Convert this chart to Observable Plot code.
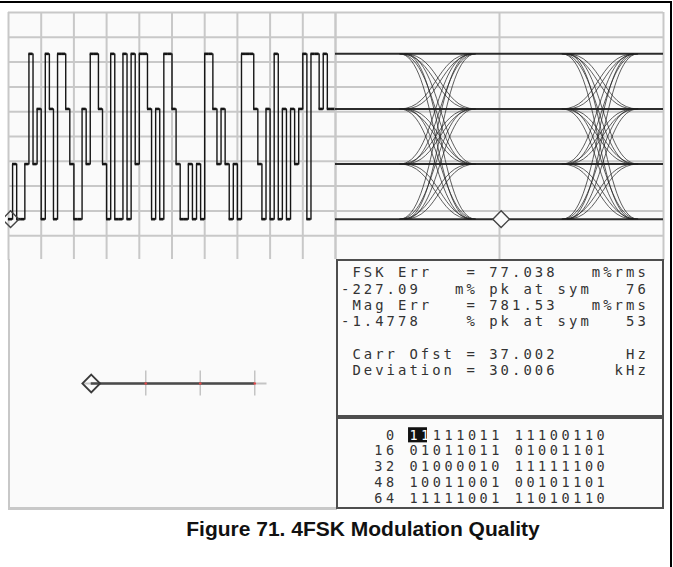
<!DOCTYPE html>
<html>
<head>
<meta charset="utf-8">
<script src="https://cdn.jsdelivr.net/npm/d3@7"></script>
<script src="https://cdn.jsdelivr.net/npm/@observablehq/plot@0.6"></script>
<style>
  body { margin: 0; background: #ffffff; }
  #page { position: relative; width: 673px; height: 567px; overflow: hidden; background: #fff; }
  .abs { position: absolute; }
  svg { display: block; }
</style>
</head>
<body>
<div id="page"></div>
<script>
// ---------------- data ----------------
const levels = [3, 1, -1, -3];
// demodulated symbol levels shown in the time trace (one value per symbol slot)
const traceSymbols = [
  -3, -1, -3, -3, -1, 3, -1, 1, -3, 3,
   1, -3, 3, 3, 1, -1, -3, -3, 1, -1,
   3, 3, 1, -1, -3, 3, -3, -3, 3, -3,
   3, -1, 3, 3, 1, -3, 1, -3, 3, 3,
   1, -1, -3, -3, -1, -3, -1, -3, 3, 3,
   1, -1, 1, -1, -3, -1, -3, 3, 3, 3,
   1, -1, -3, 1, -3, 3, -3, 1, -3, 1,
  -1, 1, 3, -3, 3, 3, 1, 3, 1, 1
];
const traceMarkerSymbol = 0;
const gridColumns = 10;
const gridRows = 10;
const yHalfRange = 4.5;

// eye diagram (two symbol periods wide)
const eyeSymbols = 2;
const eyeCrossings = [0.61, 1.60];
const eyeVariants = [[-0.22, 0.22], [-0.19, 0.245]];
const eyeMarkerTime = 1.01;
const eyeMarkerLevel = -3;

// frequency-deviation indicator
const deviationTicks = [-1, 1, 3];
const deviationMarker = -3;
const deviationAxis = [-3.25, 3.45];
const deviationRange = 6;

// measurement read-out
const measurementLines = [
  " FSK Err   = 77.038   m%rms",
  "-227.09   m% pk at sym   76",
  " Mag Err   = 781.53   m%rms",
  "-1.4778    % pk at sym   53",
  "",
  " Carr Ofst = 37.002      Hz",
  " Deviation = 30.006     kHz"
];

// demodulated bits
const bitRowLabels = [0, 16, 32, 48, 64];
const bitRows = [
  "11111011 11100110",
  "01011011 01001101",
  "01000010 11111100",
  "10011001 00101101",
  "11111001 11010110"
];
const highlightedBits = 2;

const caption = "Figure 71. 4FSK Modulation Quality";

// ---------------- styling ----------------
const GRID = "#c8c8c8";
const SCREEN_BG = "#fafafa";
const TRACE = "#161616";
const TEXT = "#333333";
const MONO = "'DejaVu Sans Mono', 'Liberation Mono', monospace";

const page = document.getElementById("page");
function place(el, left, top) {
  el.classList.add("abs");
  el.style.left = left + "px";
  el.style.top = top + "px";
  page.appendChild(el);
  return el;
}
function box(left, top, w, h, css) {
  const d = document.createElement("div");
  d.style.width = w + "px";
  d.style.height = h + "px";
  d.style.boxSizing = "border-box";
  Object.assign(d.style, css || {});
  return place(d, left, top);
}
function inside(wrap, el) {
  el.style.position = "absolute";
  el.style.left = "0px";
  el.style.top = "0px";
  wrap.appendChild(el);
}

// frame lines of the figure
box(0, 1, 672, 2, {background: "#000"});
box(670, 1, 2, 566, {background: "#000"});

// screen background
box(8, 12, 655, 497, {background: SCREEN_BG});

// ---------------- time trace ----------------
const nSym = traceSymbols.length;
const traceData = traceSymbols.map((v, i) => ({t: i, v}));
traceData.push({t: nSym, v: traceSymbols[nSym - 1]});
const gridY = d3.range(gridRows + 1).map(i => -yHalfRange + 2 * yHalfRange * i / gridRows);

const tracePlot = Plot.plot({
  width: 333, height: 254, margin: 3,
  x: {domain: [0, nSym], axis: null},
  y: {domain: [-yHalfRange, yHalfRange], axis: null},
  style: {background: "transparent"},
  marks: [
    Plot.ruleX(d3.range(gridColumns + 1).map(i => i * nSym / gridColumns), {stroke: GRID, strokeWidth: 2}),
    Plot.ruleY(gridY, {stroke: GRID, strokeWidth: 2}),
    Plot.line(traceData, {x: "t", y: "v", curve: "step-after", stroke: TRACE, strokeWidth: 1.4}),
    Plot.ruleY(traceSymbols.map((v, i) => ({t: i, v})), {x1: "t", x2: d => d.t + 1, y: "v", stroke: TRACE, strokeWidth: 2.6}),
    Plot.dot([{t: traceMarkerSymbol + 0.5, v: traceSymbols[traceMarkerSymbol]}],
      {x: "t", y: "v", symbol: "diamond2", r: 7.5, stroke: "#444", strokeWidth: 1.4, fill: "none"})
  ]
});
place(tracePlot, 5, 9);

// ---------------- eye diagram ----------------
const pairMap = new Map();
for (let i = 1; i < nSym; i++) {
  const a = traceSymbols[i - 1], b = traceSymbols[i];
  if (a !== b) pairMap.set(a + "," + b, [a, b]);
}
const eyeLinks = [];
for (const c of eyeCrossings) {
  for (const [a, b] of pairMap.values()) {
    for (const [s, e] of eyeVariants) eyeLinks.push({x1: c + s, x2: c + e, y1: a, y2: b});
  }
}
const eyePlot = Plot.plot({
  width: 334, height: 254, margin: 3,
  x: {domain: [0, eyeSymbols], axis: null},
  y: {domain: [-yHalfRange, yHalfRange], axis: null},
  style: {background: "transparent"},
  marks: [
    Plot.ruleX(d3.range(eyeSymbols + 1), {stroke: GRID, strokeWidth: 2}),
    Plot.ruleY(gridY, {stroke: GRID, strokeWidth: 2}),
    Plot.ruleY(levels, {stroke: "#2b2b2b", strokeWidth: 2}),
    Plot.link(eyeLinks, {x1: "x1", y1: "y1", x2: "x2", y2: "y2", curve: "bump-x", stroke: "#1e1e1e", strokeWidth: 0.8, strokeOpacity: 0.9}),
    Plot.dot([{t: eyeMarkerTime, v: eyeMarkerLevel}],
      {x: "t", y: "v", symbol: "diamond2", r: 7.5, stroke: "#444", strokeWidth: 1.4, fill: SCREEN_BG})
  ]
});
place(eyePlot, 332, 9);

// ---------------- deviation indicator ----------------
const indWrap = box(8, 259, 329, 251, {borderLeft: "2px solid " + GRID, borderBottom: "3px solid " + GRID, background: SCREEN_BG});
const indPlot = Plot.plot({
  width: 327, height: 248, margin: 0,
  x: {domain: [-deviationRange, deviationRange], range: [-1, 326], axis: null},
  y: {domain: [-1, 1], axis: null},
  style: {background: "transparent"},
  marks: [
    Plot.ruleY([0], {x1: deviationAxis[0], x2: deviationAxis[1], stroke: "#c4c4c4", strokeWidth: 2}),
    Plot.ruleX(deviationTicks, {y1: -0.1, y2: 0.1, stroke: "#c4c4c4", strokeWidth: 1.5}),
    Plot.ruleY([0], {x1: deviationMarker, x2: d3.max(deviationTicks), stroke: "#4a4a4a", strokeWidth: 2.5}),
    Plot.dot(deviationTicks, {x: d => d, y: 0, r: 1.3, fill: "#e04848"}),
    Plot.dot([deviationMarker], {x: d => d, y: 0, symbol: "diamond2", r: 8, stroke: "#3a3a3a", strokeWidth: 1.8, fill: "none"})
  ]
});
inside(indWrap, indPlot);

// ---------------- text helpers ----------------
function charsOf(lines) {
  const out = [];
  lines.forEach((line, row) => {
    [...line].forEach((ch, col) => { if (ch !== " ") out.push({row, col, ch}); });
  });
  return out;
}

// ---------------- measurement read-out ----------------
const measWrap = box(336, 259, 328, 158, {border: "2px solid #4e4e4e", background: "#fbfbfb"});
const measChar = 11.4, measRow = 16.25, measFont = 13.9;
const measPlot = Plot.plot({
  width: 324, height: 154, margin: 0,
  x: {domain: [-1 / measChar, 323 / measChar], range: [0, 324], axis: null},
  y: {domain: [-11.5 / measRow, (154 - 11.5) / measRow], range: [0, 154], axis: null},
  style: {background: "transparent"},
  marks: [
    Plot.text(charsOf(measurementLines), {x: d => d.col + 0.5, y: "row", text: "ch",
      fontFamily: MONO, fontSize: measFont, fill: TEXT, textAnchor: "middle"})
  ]
});
inside(measWrap, measPlot);

// ---------------- bits ----------------
const bitLines = bitRows.map((r, i) => String(bitRowLabels[i]).padStart(2, " ") + " " + r);
const bitStartCol = 3;
const bitWrap = box(336, 417, 328, 92, {border: "2px solid #4e4e4e", background: "#fbfbfb"});
const bitChar = 11.7, bitRow = 15.75, bitFont = 13.5;
const bitChars = charsOf(bitLines).map(d => ({...d,
  hi: d.row === 0 && d.col >= bitStartCol && d.col < bitStartCol + highlightedBits}));
const bitPlot = Plot.plot({
  width: 324, height: 88, margin: 0,
  x: {domain: [-34 / bitChar, (324 - 34) / bitChar], range: [0, 324], axis: null},
  y: {domain: [-15.8 / bitRow, (88 - 15.8) / bitRow], range: [0, 88], axis: null},
  style: {background: "transparent"},
  marks: [
    Plot.rect([{c: bitStartCol, n: highlightedBits}], {x1: d => d.c + 0.08, x2: d => d.c + d.n - 0.3, y1: -0.48, y2: 0.48, fill: "#111"}),
    Plot.text(bitChars, {x: d => d.col + 0.5, y: "row", text: "ch",
      fontFamily: MONO, fontSize: bitFont, fill: d => d.hi ? "#ffffff" : TEXT, textAnchor: "middle"})
  ]
});
inside(bitWrap, bitPlot);

// ---------------- caption ----------------
const cap = document.createElement("div");
cap.textContent = caption;
Object.assign(cap.style, {width: "460px", textAlign: "center", font: "bold 21px 'Liberation Sans', Arial, sans-serif",
  lineHeight: "21px", color: "#111", whiteSpace: "nowrap"});
place(cap, 133, 518);
</script>
</body>
</html>
